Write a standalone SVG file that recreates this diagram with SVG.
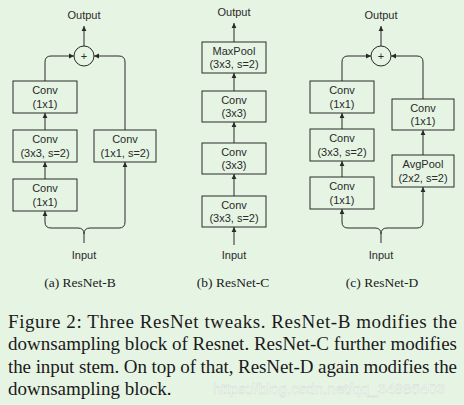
<svg xmlns="http://www.w3.org/2000/svg" width="464" height="405" viewBox="0 0 464 405">
<defs>
<marker id="ah" markerWidth="6" markerHeight="6" refX="5" refY="3" orient="auto" markerUnits="userSpaceOnUse">
<path d="M0,0.6 L5,3 L0,5.4 Z" fill="#2a2a2a"/>
</marker>
</defs>
<style>
.bg{fill:#e6f4e4}
.box{fill:none;stroke:#2a2a2a;stroke-width:1}
.ar{fill:none;stroke:#2a2a2a;stroke-width:1;marker-end:url(#ah)}
.t{font-family:"Liberation Sans",Arial,sans-serif;font-size:11px;fill:#2a2a2a;text-anchor:middle}
.sub{font-family:"Liberation Serif","Times New Roman",serif;font-size:13.5px;fill:#1a1a1a;text-anchor:middle}
.cap{font-family:"Liberation Serif","Times New Roman",serif;font-size:19px;fill:#1a1a1a}
.wm{font-family:"Liberation Sans",Arial,sans-serif;font-size:15px;fill:#ffffff;fill-opacity:0.7;stroke:#cfd8cf;stroke-width:0.4}
</style>
<rect class="bg" x="0" y="0" width="464" height="405"/>

<g id="connectors">
<!-- Panel A -->
<line class="ar" x1="84" y1="46" x2="84" y2="26"/>
<path class="ar" d="M45,81 V62 Q45,56 51,56 H74"/>
<path class="ar" d="M125,130 V62 Q125,56 119,56 H94"/>
<line class="ar" x1="45" y1="130" x2="45" y2="113"/>
<line class="ar" x1="45" y1="179" x2="45" y2="162"/>
<path class="ar" d="M84,243 V234 Q84,228 78,228 H51 Q45,228 45,222 V211"/>
<path class="ar" d="M84,234 Q84,228 90,228 H119 Q125,228 125,222 V162"/>
<!-- Panel B -->
<line class="ar" x1="234" y1="42" x2="234" y2="23"/>
<line class="ar" x1="234" y1="91" x2="234" y2="73"/>
<line class="ar" x1="234" y1="143" x2="234" y2="122"/>
<line class="ar" x1="234" y1="196" x2="234" y2="174"/>
<line class="ar" x1="234" y1="245" x2="234" y2="227"/>
<!-- Panel C -->
<line class="ar" x1="381" y1="46" x2="381" y2="26"/>
<path class="ar" d="M342,81 V62 Q342,56 348,56 H371"/>
<path class="ar" d="M423,99 V62 Q423,56 417,56 H391"/>
<line class="ar" x1="342" y1="129" x2="342" y2="113"/>
<line class="ar" x1="342" y1="177" x2="342" y2="161"/>
<line class="ar" x1="423" y1="155" x2="423" y2="130"/>
<path class="ar" d="M381,243 V234 Q381,228 375,228 H348 Q342,228 342,222 V209"/>
<path class="ar" d="M381,234 Q381,228 387,228 H417 Q423,228 423,222 V187"/>
</g>

<!-- Panel A nodes -->
<g id="a-output"><text class="t" x="84" y="19">Output</text></g>
<g id="a-add"><circle class="box" cx="84" cy="56" r="10"/><text class="t" x="84" y="60">+</text></g>
<g id="a-conv1"><rect class="box" x="13" y="81" width="64" height="32"/><text class="t" x="45" y="94">Conv</text><text class="t" x="45" y="108">(1x1)</text></g>
<g id="a-conv2"><rect class="box" x="13" y="130" width="64" height="32"/><text class="t" x="45" y="143">Conv</text><text class="t" x="45" y="157">(3x3, s=2)</text></g>
<g id="a-conv3"><rect class="box" x="13" y="179" width="64" height="32"/><text class="t" x="45" y="192">Conv</text><text class="t" x="45" y="206">(1x1)</text></g>
<g id="a-convr"><rect class="box" x="94" y="130" width="62" height="32"/><text class="t" x="125" y="143">Conv</text><text class="t" x="125" y="157">(1x1, s=2)</text></g>
<g id="a-input"><text class="t" x="84" y="259">Input</text></g>

<!-- Panel B nodes -->
<g id="b-output"><text class="t" x="234" y="16">Output</text></g>
<g id="b-maxpool"><rect class="box" x="202" y="42" width="64" height="31"/><text class="t" x="234" y="55">MaxPool</text><text class="t" x="234" y="68">(3x3, s=2)</text></g>
<g id="b-conv3"><rect class="box" x="202" y="91" width="64" height="31"/><text class="t" x="234" y="104">Conv</text><text class="t" x="234" y="117">(3x3)</text></g>
<g id="b-conv2"><rect class="box" x="202" y="143" width="64" height="31"/><text class="t" x="234" y="156">Conv</text><text class="t" x="234" y="169">(3x3)</text></g>
<g id="b-conv1"><rect class="box" x="202" y="196" width="64" height="31"/><text class="t" x="234" y="209">Conv</text><text class="t" x="234" y="222">(3x3, s=2)</text></g>
<g id="b-input"><text class="t" x="234" y="259">Input</text></g>

<!-- Panel C nodes -->
<g id="c-output"><text class="t" x="381" y="19">Output</text></g>
<g id="c-add"><circle class="box" cx="381" cy="56" r="10"/><text class="t" x="381" y="60">+</text></g>
<g id="c-conv1"><rect class="box" x="310" y="81" width="64" height="32"/><text class="t" x="342" y="94">Conv</text><text class="t" x="342" y="108">(1x1)</text></g>
<g id="c-conv2"><rect class="box" x="310" y="129" width="64" height="32"/><text class="t" x="342" y="142">Conv</text><text class="t" x="342" y="156">(3x3, s=2)</text></g>
<g id="c-conv3"><rect class="box" x="310" y="177" width="64" height="32"/><text class="t" x="342" y="190">Conv</text><text class="t" x="342" y="204">(1x1)</text></g>
<g id="c-convr"><rect class="box" x="392" y="99" width="62" height="31"/><text class="t" x="423" y="112">Conv</text><text class="t" x="423" y="125">(1x1)</text></g>
<g id="c-avgpool"><rect class="box" x="392" y="155" width="62" height="32"/><text class="t" x="423" y="168">AvgPool</text><text class="t" x="423" y="182">(2x2, s=2)</text></g>
<g id="c-input"><text class="t" x="381" y="259">Input</text></g>

<!-- Sub-labels -->
<text class="sub" x="80" y="287">(a) ResNet-B</text>
<text class="sub" x="233" y="287">(b) ResNet-C</text>
<text class="sub" x="382" y="287">(c) ResNet-D</text>

<!-- Caption -->
<text class="cap" x="8" y="328" textLength="449" lengthAdjust="spacing">Figure 2: Three ResNet tweaks.  ResNet-B modifies the</text>
<text class="cap" x="8" y="350" textLength="449" lengthAdjust="spacing">downsampling block of Resnet. ResNet-C further modifies</text>
<text class="cap" x="8" y="373" textLength="449" lengthAdjust="spacing">the input stem. On top of that, ResNet-D again modifies the</text>
<text class="cap" x="8" y="395">downsampling block.</text>
<text class="wm" x="213" y="394" textLength="232" lengthAdjust="spacingAndGlyphs">https://blog.csdn.net/qq_34886403</text>
</svg>
